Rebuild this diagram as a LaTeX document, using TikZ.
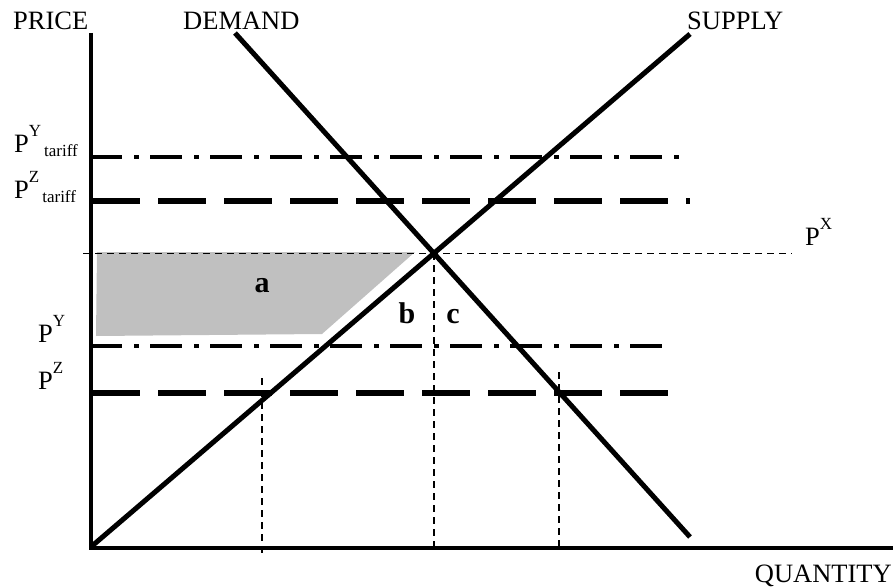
\documentclass[tikz,border=0pt]{standalone}
\usepackage{fontspec}
\setmainfont{Liberation Serif}
\usetikzlibrary{intersections}
\definecolor{shadegray}{RGB}{192,192,192}
\newcommand{\supsub}[2]{P\raisebox{16pt}{\fontsize{17}{17}\selectfont #1}\kern3pt\raisebox{-4pt}{\fontsize{17}{17}\selectfont #2}}
\newcommand{\supP}[1]{P\raisebox{16pt}{\fontsize{17}{17}\selectfont #1}}
\tikzset{
  lbl/.style={inner sep=0pt, anchor=base west, font=\fontsize{26.5}{30}\selectfont},
  area/.style={inner sep=0pt, anchor=base, font=\fontsize{30}{30}\selectfont\bfseries},
  axis/.style={line width=4.5pt, line join=miter},
  curve/.style={line width=5pt},
  dashdotline/.style={line width=3.8pt, dash pattern=on 32pt off 12pt on 5pt off 11pt, dash phase=2pt},
  longdash/.style={line width=5.5pt, dash pattern=on 48pt off 18pt},
  guide/.style={line width=1.5pt, dash pattern=on 6.5pt off 5.5pt},
}
\begin{document}
\begin{tikzpicture}[x=1pt,y=-1pt]
\useasboundingbox (0,0) rectangle (896,586);
% shaded area a
\fill[shadegray] (97,252) -- (415,252) -- (322,334) -- (96,336) -- cycle;
% axes
\coordinate (top) at (91,33);
\coordinate (origin) at (91,548);
\coordinate (right) at (893,548);
\draw[axis] (top) -- (origin) -- (right);
% supply and demand
\coordinate (s0) at (92,546);
\coordinate (s1) at (690,34);
\coordinate (d0) at (235,33);
\coordinate (d1) at (690,537);
\draw[curve, name path=sup] (s0) -- (s1);
\draw[curve, name path=dem] (d0) -- (d1);
\path[name intersections={of=sup and dem, by=eq}];
% price lines
\coordinate (ty0) at (92,157); \coordinate (ty1) at (680,157);
\coordinate (tz0) at (92,201); \coordinate (tz1) at (690,201);
\coordinate (py0) at (92,346); \coordinate (py1) at (663,346);
\coordinate (pz0) at (92,393); \coordinate (pz1) at (668,393);
\draw[dashdotline] (ty0) -- (ty1);
\draw[longdash] (tz0) -- (tz1);
\draw[dashdotline] (py0) -- (py1);
\draw[longdash] (pz0) -- (pz1);
% guides
\coordinate (px0) at (83,0);
\coordinate (px1) at (792,0);
\draw[guide] (px0 |- eq) -- (px1 |- eq);
\coordinate (eqb) at (0,553);
\draw[guide] (eq) -- (eq |- eqb);
\coordinate (g1a) at (262,378); \coordinate (g1b) at (262,554);
\coordinate (g2a) at (559,372); \coordinate (g2b) at (559,548);
\draw[guide] (g1a) -- (g1b);
\draw[guide] (g2a) -- (g2b);
% labels
\node[lbl] (price) at (13,30) {PRICE};
\node[lbl] (demand) at (183,30) {DEMAND};
\node[lbl] (supply) at (687,30) {SUPPLY};
\node[lbl, anchor=base east] (quantity) at (892,582) {QUANTITY};
\node[lbl] (pyt) at (14,152) {\supsub{Y}{tariff}};
\node[lbl] (pzt) at (14,198) {\supsub{Z}{tariff}};
\node[lbl] (px) at (805,245) {\supP{X}};
\node[lbl] (py) at (38,342) {\supP{Y}};
\node[lbl] (pz) at (38,389) {\supP{Z}};
\node[area] (a) at (262,292) {a};
\node[area] (b) at (407,323) {b};
\node[area] (c) at (453,323) {c};
\end{tikzpicture}
\end{document}
